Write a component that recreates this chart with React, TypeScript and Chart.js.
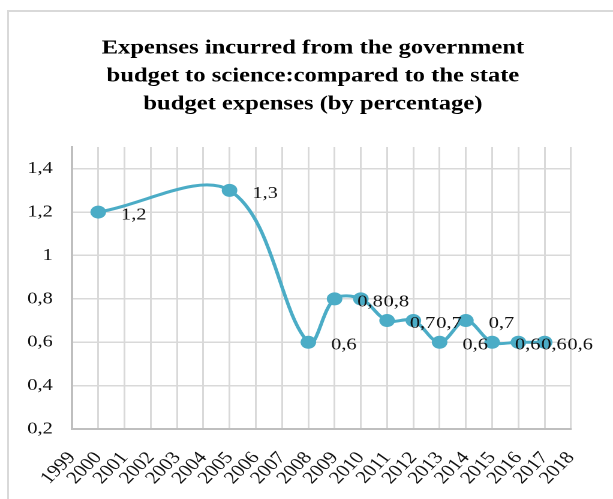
import React, { useEffect, useRef } from "react";
import { Chart, registerables } from "chart.js";

Chart.register(...registerables);

const years: number[] = [2000, 2005, 2008, 2009, 2010, 2011, 2012, 2013, 2014, 2015, 2016, 2017];
const shares: number[] = [1.2, 1.3, 0.6, 0.8, 0.8, 0.7, 0.7, 0.6, 0.7, 0.6, 0.6, 0.6];
const titleLines: string[] = [
  "Expenses incurred from the government",
  "budget to science:compared to the state",
  "budget expenses (by percentage)",
];
const xMin = 1999;
const xMax = 2018;
const yMin = 0.2;
const yMax = 1.5;
const yStep = 0.2;

const SERIF = "'Liberation Serif', 'Times New Roman', serif";
const LINE_COLOR = "#4bacc6";
const STRETCH = 1.2; // the reference image is stretched horizontally
const W = 613;
const H = 499;
const IW = Math.round(W / STRETCH);

const fmt = (v: number) => String(Number(v.toFixed(1))).replace(".", ",");

const dataLabels = {
  id: "dataLabels",
  afterDatasetsDraw(chart: any) {
    const meta = chart.getDatasetMeta(0);
    const ctx = chart.ctx;
    ctx.save();
    ctx.font = `17px ${SERIF}`;
    ctx.fillStyle = "#111";
    ctx.textAlign = "left";
    ctx.textBaseline = "middle";
    meta.data.forEach((pt: any, i: number) => {
      ctx.fillText(fmt(shares[i]), pt.x + 19, pt.y + 3);
    });
    ctx.restore();
  },
};

const titleDraw = {
  id: "titleDraw",
  afterDraw(chart: any) {
    const ctx = chart.ctx;
    ctx.save();
    ctx.font = `bold 20.5px ${SERIF}`;
    ctx.fillStyle = "#000";
    ctx.textAlign = "center";
    ctx.textBaseline = "middle";
    const cx = 313 / STRETCH;
    titleLines.forEach((line, i) => {
      ctx.fillText(line, cx, 48 + i * 28);
    });
    ctx.restore();
  },
};

export default function App() {
  const ref = useRef<HTMLCanvasElement | null>(null);
  useEffect(() => {
    if (!ref.current) return;
    const chart = new Chart(ref.current, {
      type: "line",
      data: {
        datasets: [
          {
            data: years.map((y, i) => ({ x: y, y: shares[i] })),
            borderColor: LINE_COLOR,
            backgroundColor: LINE_COLOR,
            borderWidth: 3,
            tension: 0.35,
            pointRadius: 6.5,
            pointBackgroundColor: LINE_COLOR,
            pointBorderColor: LINE_COLOR,
            pointBorderWidth: 0,
            fill: false,
          },
        ],
      },
      options: {
        animation: false,
        responsive: true,
        maintainAspectRatio: false,
        devicePixelRatio: 2,
        layout: { padding: { left: 0, right: IW - 575 / STRETCH, top: 147, bottom: 0 } },
        plugins: {
          legend: { display: false },
          tooltip: { enabled: false },
          title: { display: false },
        },
        scales: {
          x: {
            type: "linear",
            min: xMin,
            max: xMax,
            afterFit: (s: any) => {
              s.height = 70;
            },
            ticks: {
              stepSize: 1,
              autoSkip: false,
              maxRotation: 50,
              minRotation: 50,
              padding: 19,
              color: "#111",
              font: { family: SERIF, size: 17.5 },
              callback: (v: any) => String(v),
            },
            grid: { color: "#d9d9d9", lineWidth: 1.5, drawTicks: false },
            border: { color: "#bfbfbf", width: 2 },
          },
          y: {
            type: "linear",
            min: yMin,
            max: yMax,
            afterFit: (s: any) => {
              s.width = 72 / STRETCH;
            },
            afterBuildTicks: (s: any) => {
              s.ticks = s.ticks.filter((t: any) => t.value <= 1.41);
            },
            ticks: {
              stepSize: yStep,
              includeBounds: false,
              padding: 16,
              color: "#111",
              font: { family: SERIF, size: 17 },
              callback: (v: any) => fmt(Number(v)),
            },
            grid: { color: "#d9d9d9", lineWidth: 1.5, drawTicks: false },
            border: { color: "#bfbfbf", width: 2 },
          },
        },
      },
      plugins: [dataLabels, titleDraw],
    });
    return () => chart.destroy();
  }, []);

  return (
    <div
      style={{
        position: "fixed",
        left: 0,
        top: 0,
        width: W,
        height: H,
        overflow: "hidden",
        background: "#fff",
      }}
    >
      <div
        style={{
          position: "absolute",
          left: 7,
          top: 10,
          width: 700,
          height: 600,
          border: "2px solid #d9d9d9",
          boxSizing: "border-box",
        }}
      />
      <div
        style={{
          position: "absolute",
          left: 0,
          top: 0,
          width: IW,
          height: H,
          transform: `scaleX(${W / IW})`,
          transformOrigin: "0 0",
        }}
      >
        <canvas ref={ref} />
      </div>
    </div>
  );
}
